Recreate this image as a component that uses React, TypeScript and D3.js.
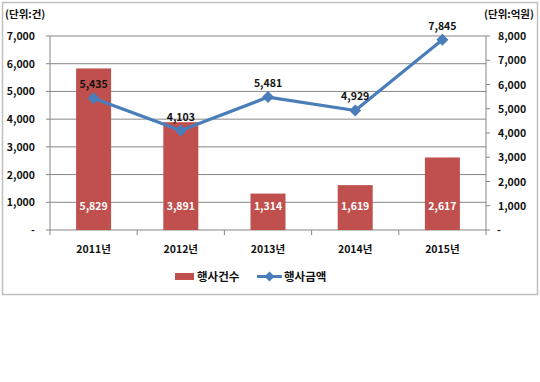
import React from "react";
import * as d3 from "d3";

const categories = ["2011년", "2012년", "2013년", "2014년", "2015년"];
const eventCounts = [5829, 3891, 1314, 1619, 2617];
const eventAmounts = [5435, 4103, 5481, 4929, 7845];
const leftTicks = [0, 1000, 2000, 3000, 4000, 5000, 6000, 7000];
const rightTicks = [0, 1000, 2000, 3000, 4000, 5000, 6000, 7000, 8000];
const barName = "행사건수";
const lineName = "행사금액";
const leftUnit = "(단위:건)";
const rightUnit = "(단위:억원)";

const W = 540, H = 382;
const L = 50, R = 486, T = 36, B = 230;
const FONT = "'Noto Sans CJK KR', 'Noto Sans', sans-serif";
const BAR = "#C0504D";
const LINE = "#4A7EBB";

const fmt = (v: number) => (v === 0 ? "-" : d3.format(",")(v));

export default function App() {
  const x = d3.scaleBand<string>().domain(categories).range([L, R]);
  const yL = d3.scaleLinear().domain([0, 7000]).range([B, T]);
  const yR = d3.scaleLinear().domain([0, 8000]).range([B, T]);
  const bw = 35;
  const cx = (c: string) => (x(c) as number) + x.bandwidth() / 2;
  const line = d3
    .line<number>()
    .x((_, i) => cx(categories[i]))
    .y((d) => yR(d));
  const diamond = (px: number, py: number, r: number) =>
    `M${px},${py - r}L${px + r},${py}L${px},${py + r}L${px - r},${py}Z`;

  return (
    <svg
      width={W}
      height={H}
      style={{ position: "absolute", left: 0, top: 0 }}
      fontFamily={FONT}
    >
      <rect x={0} y={0} width={W} height={H} fill="#fff" />
      <rect x={2.5} y={2.5} width={535} height={292} fill="#fff" stroke="#BFBFBF" strokeWidth={1.5} />
      {/* gridlines */}
      {leftTicks.map((t) => (
        <line key={t} x1={L} x2={R} y1={yL(t)} y2={yL(t)} stroke="#868686" strokeWidth={1} />
      ))}
      {/* axes */}
      <line x1={L} x2={L} y1={T} y2={B} stroke="#868686" />
      <line x1={R} x2={R} y1={T} y2={B} stroke="#868686" />
      {leftTicks.map((t) => (
        <line key={"lt" + t} x1={L - 4} x2={L} y1={yL(t)} y2={yL(t)} stroke="#868686" />
      ))}
      {rightTicks.map((t) => (
        <line key={"rt" + t} x1={R} x2={R + 4} y1={yR(t)} y2={yR(t)} stroke="#868686" />
      ))}
      {categories.map((c, i) => (
        <line key={"xt" + c} x1={x(c) as number} x2={x(c) as number} y1={B} y2={B + 5} stroke="#868686" />
      ))}
      <line x1={R} x2={R} y1={B} y2={B + 5} stroke="#868686" />
      {/* bars */}
      {categories.map((c, i) => (
        <rect key={"b" + c} x={cx(c) - bw / 2} y={yL(eventCounts[i])} width={bw} height={B - yL(eventCounts[i])} fill={BAR} />
      ))}
      {categories.map((c, i) => (
        <text key={"bl" + c} x={cx(c)} y={210} textAnchor="middle" fontSize={10.5} fontWeight="bold" fill="#fff">
          {fmt(eventCounts[i])}
        </text>
      ))}
      {/* line */}
      <path d={line(eventAmounts) || ""} fill="none" stroke={LINE} strokeWidth={3.2} strokeLinejoin="round" />
      {categories.map((c, i) => (
        <path key={"m" + c} d={diamond(cx(c), yR(eventAmounts[i]), 6)} fill={LINE} />
      ))}
      {categories.map((c, i) => (
        <text key={"ll" + c} x={cx(c)} y={yR(eventAmounts[i]) - 10} textAnchor="middle" fontSize={10.5} fontWeight="bold" fill="#111">
          {fmt(eventAmounts[i])}
        </text>
      ))}
      {/* axis labels */}
      {leftTicks.map((t) => (
        <text key={"ltl" + t} x={35} y={yL(t) + 4} textAnchor="end" fontSize={10.5} fontWeight="bold" fill="#111">
          {fmt(t)}
        </text>
      ))}
      {rightTicks.map((t) => (
        <text key={"rtl" + t} x={t === 0 ? 497 : 498} y={yR(t) + 4} textAnchor="start" fontSize={10.5} fontWeight="bold" fill="#111">
          {fmt(t)}
        </text>
      ))}
      {categories.map((c) => (
        <text key={"xl" + c} x={cx(c)} y={253} textAnchor="middle" fontSize={10.5} fontWeight="bold" fill="#111">
          {c}
        </text>
      ))}
      <text x={5} y={18} fontSize={10.5} fontWeight="bold" fill="#111">{leftUnit}</text>
      <text x={534} y={18} textAnchor="end" fontSize={10.5} fontWeight="bold" fill="#111">{rightUnit}</text>
      {/* legend */}
      <rect x={175} y={273} width={19} height={7} fill={BAR} />
      <text x={197} y={281} fontSize={11.5} fontWeight="bold" fill="#111">{barName}</text>
      <line x1={257} x2={282} y1={276.5} y2={276.5} stroke={LINE} strokeWidth={3} />
      <path d={diamond(269.5, 276.5, 5)} fill={LINE} />
      <text x={284} y={281} fontSize={11.5} fontWeight="bold" fill="#111">{lineName}</text>
    </svg>
  );
}
